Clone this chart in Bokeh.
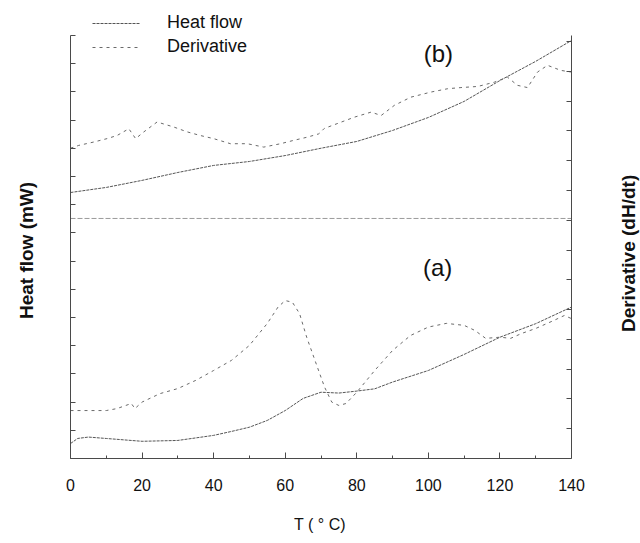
import math
from bokeh.plotting import figure
from bokeh.models import (Range1d, LinearAxis, FixedTicker, Label,
                          Legend, LegendItem)
from bokeh.embed import file_html
from bokeh.resources import INLINE

# ---- data ----
# panel (b), upper curves
temp_b_heat = [0, 10, 20, 30, 40, 50, 60, 70, 80, 90, 100, 110, 120, 130, 140]
heat_b = [9.43, 9.61, 9.86, 10.14, 10.39, 10.53, 10.74, 11.0, 11.24, 11.63,
          12.09, 12.66, 13.40, 14.08, 14.82]

temp_b_deriv = [0, 2.3, 6.5, 10.2, 13.0, 16.3, 18.2, 20.5, 24.2, 28.9, 32.6,
                36.3, 40.0, 44.7, 49.4, 54.0, 58.7, 62.4, 66.1, 69.4, 70.9,
                79.3, 84.0, 86.8, 90.5, 95.1, 100.7, 105.4, 109.1, 113.8,
                118.4, 122.1, 124.9, 127.7, 130.5, 133.3, 137.0, 140.0]
deriv_b = [11.0, 11.10, 11.22, 11.34, 11.45, 11.69, 11.34, 11.58, 11.93, 11.75,
           11.58, 11.45, 11.34, 11.16, 11.16, 11.04, 11.16, 11.28, 11.39, 11.51,
           11.70, 12.10, 12.28, 12.16, 12.52, 12.81, 12.99, 13.11, 13.15, 13.19,
           13.34, 13.52, 13.23, 13.15, 13.70, 13.94, 13.76, 13.70]

# panel (a), lower curves
temp_a_heat = [0, 2, 5, 10, 20, 30, 40, 45, 50, 55, 60, 65, 70, 75, 80, 85,
               90, 100, 110, 120, 130, 140]
heat_a = [0.53, 0.71, 0.76, 0.71, 0.61, 0.64, 0.82, 0.96, 1.11, 1.35, 1.70,
          2.13, 2.35, 2.32, 2.39, 2.47, 2.71, 3.12, 3.69, 4.30, 4.78, 5.37]

temp_a_deriv = [0, 5, 10, 13, 17, 18, 20, 25, 30, 35, 40, 45, 50, 55, 58, 60,
                62, 64, 66, 68, 70, 71, 73, 75, 77, 80, 85, 90, 95, 100, 105,
                110, 113, 116, 120, 123, 126, 130, 135, 138, 140]
deriv_a = [1.70, 1.70, 1.70, 1.77, 1.95, 1.77, 2.00, 2.30, 2.48, 2.77, 3.12,
           3.48, 4.01, 4.79, 5.37, 5.60, 5.54, 5.14, 4.30, 3.59, 2.88, 2.53,
           2.00, 1.88, 1.95, 2.35, 3.12, 3.83, 4.36, 4.66, 4.79, 4.72, 4.54,
           4.26, 4.30, 4.26, 4.43, 4.61, 4.89, 5.07, 4.96]

x_ticks = [0, 20, 40, 60, 80, 100, 120, 140]
x_minor = [10, 30, 50, 70, 90, 110, 130]
x_span = (0, 140)
left_ticks = list(range(0, 16))
right_ticks = list(range(0, 15))
left_span = (0, 15)
right_span = (0, 14.2)
panel_split = 8.51
panel_labels = ["(a)", "(b)"]
panel_label_x = [102.6, 102.8]
panel_label_y = [6.77, 14.36]

FONT = "Liberation Sans"
AXIS_COLOR = "#4a4a4a"
NBSP = "\u00a0"

# The frame covers the canvas from x=70 to the right edge and from the top,
# so that the legend and the right-hand title are not clipped; axes are
# bounded to the plotted span.
p = figure(width=640, height=543, output_backend="svg", toolbar_location=None,
           x_range=Range1d(0, 159.28), y_range=Range1d(0, 16.06),
           min_border_left=70, min_border_right=0, min_border_top=5,
           min_border_bottom=85)
p.extra_y_ranges = {"right": Range1d(0, 15.21)}
p.outline_line_color = None
p.xgrid.visible = False
p.ygrid.visible = False
p.background_fill_color = "white"
p.border_fill_color = "white"

# bottom axis
xa = p.xaxis[0]
xa.bounds = x_span
xa.ticker = FixedTicker(ticks=x_ticks, minor_ticks=x_minor)
xa.axis_label = "T ( \u00b0 C)" + NBSP * 16
xa.axis_label_text_font = FONT
xa.axis_label_text_font_style = "normal"
xa.axis_label_text_font_size = "16px"
xa.axis_label_text_color = "#111111"
xa.axis_label_standoff = 22
xa.major_label_text_font = FONT
xa.major_label_text_font_size = "16px"
xa.major_label_text_color = "#111111"
xa.major_label_standoff = 20
xa.major_tick_in = 6
xa.major_tick_out = 0
xa.minor_tick_in = 3
xa.minor_tick_out = 0
xa.axis_line_color = AXIS_COLOR
xa.major_tick_line_color = AXIS_COLOR
xa.minor_tick_line_color = AXIS_COLOR

# left axis
ya = p.yaxis[0]
ya.bounds = left_span
ya.ticker = FixedTicker(ticks=left_ticks, minor_ticks=[])
ya.major_label_text_font_size = "0px"
ya.major_label_standoff = 0
ya.major_tick_in = 5
ya.major_tick_out = 0
ya.minor_tick_in = 0
ya.minor_tick_out = 0
ya.axis_label = "Heat flow (mW)" + NBSP * 7
ya.axis_label_text_font = FONT
ya.axis_label_text_font_style = "bold"
ya.axis_label_text_font_size = "19px"
ya.axis_label_text_color = "#111111"
ya.axis_label_standoff = 34
ya.axis_line_color = AXIS_COLOR
ya.major_tick_line_color = AXIS_COLOR

# right-hand scale, drawn at x = 140 with ticks pointing inwards
ra = LinearAxis(y_range_name="right", fixed_location=x_span[1])
ra.bounds = right_span
ra.ticker = FixedTicker(ticks=right_ticks, minor_ticks=[])
ra.major_label_text_font_size = "0px"
ra.major_label_standoff = 0
ra.major_tick_in = 0
ra.major_tick_out = 5
ra.minor_tick_in = 0
ra.minor_tick_out = 0
ra.axis_line_color = AXIS_COLOR
ra.major_tick_line_color = AXIS_COLOR
p.add_layout(ra, "left")

p.add_layout(Label(x=155.9, y=7.27, text="Derivative (dH/dt)", angle=math.pi / 2,
                   text_align="center", text_baseline="middle", text_font=FONT,
                   text_font_style="bold", text_font_size="19px",
                   text_color="#111111"))

# separator between the panels
p.line(list(x_span), [panel_split, panel_split], line_color="#9a9a9a",
       line_width=1, line_dash="5 2")

HEAT_STYLE = dict(line_color="#555555", line_width=1, line_dash="3 1")
DERIV_STYLE = dict(line_color="#6a6a6a", line_width=1, line_dash="3 4")

hb = p.line(temp_b_heat, heat_b, **HEAT_STYLE)
db = p.line(temp_b_deriv, deriv_b, **DERIV_STYLE)
ha = p.line(temp_a_heat, heat_a, **HEAT_STYLE)
da = p.line(temp_a_deriv, deriv_a, **DERIV_STYLE)

for t, lx, ly in zip(panel_labels, panel_label_x, panel_label_y):
    p.add_layout(Label(x=lx, y=ly, text=t, text_align="center",
                       text_baseline="middle", text_font=FONT,
                       text_font_size="24px", text_color="#111111"))

legend = Legend(items=[LegendItem(label="Heat flow", renderers=[hb]),
                       LegendItem(label="Derivative", renderers=[db])],
                location=(22, 401), padding=0, margin=0, spacing=3,
                glyph_width=48, glyph_height=20, label_height=20,
                label_standoff=27, label_text_font=FONT,
                label_text_font_size="18px", label_text_color="#111111",
                background_fill_alpha=0, border_line_alpha=0)
p.add_layout(legend)

open("out.html", "w").write(file_html(p, INLINE))
